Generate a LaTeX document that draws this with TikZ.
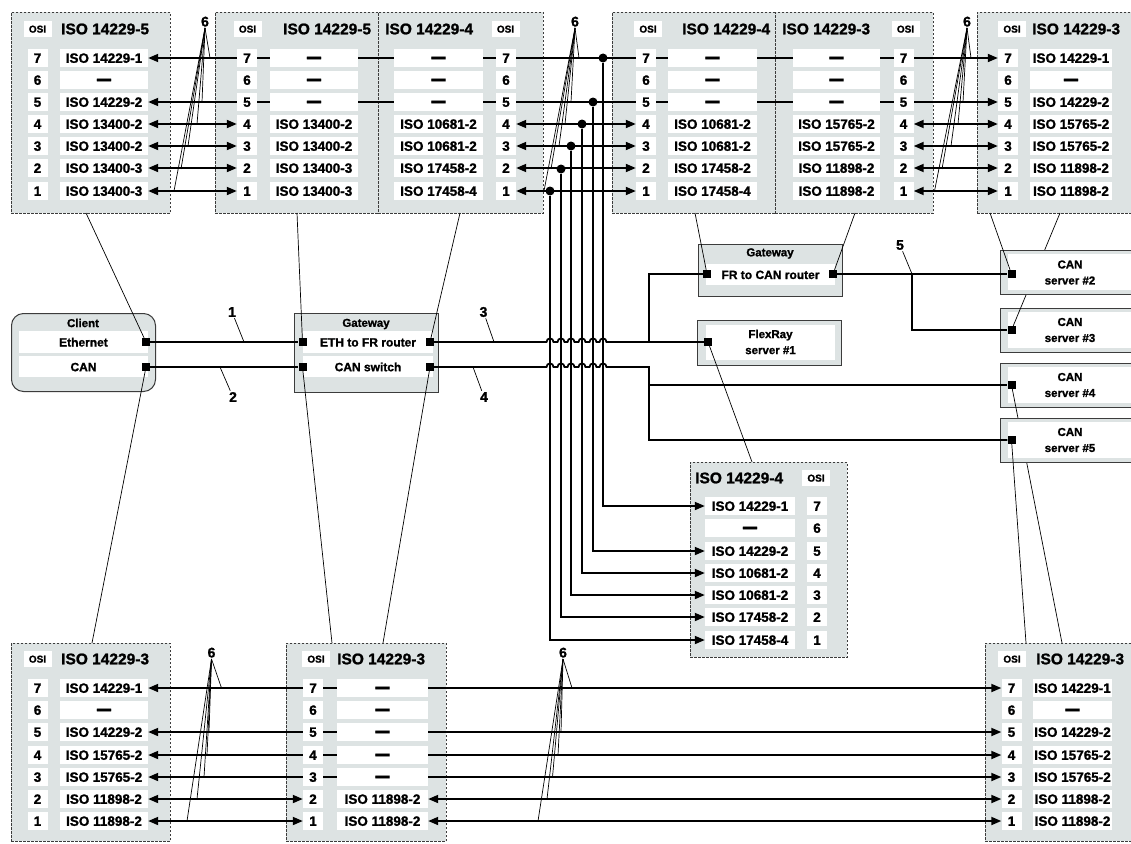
\documentclass[tikz,border=0pt]{standalone}
\usepackage{fontspec}
\setmainfont{Liberation Sans}[BoldFeatures={FakeBold=1.3}]
\usetikzlibrary{arrows.meta}
\pgfdeclarelayer{bg}
\pgfdeclarelayer{mid}
\pgfsetlayers{bg,mid,main}
\definecolor{pg}{RGB}{221,227,227}
\definecolor{bd}{RGB}{60,60,60}
\newcommand\cellfnt{\fontsize{13.5}{15}\selectfont\bfseries}
\newcommand\hdfnt{\fontsize{15.5}{18}\selectfont\bfseries}
\newcommand\osifnt{\fontsize{10}{12}\selectfont\bfseries}
\newcommand\boxfnt{\fontsize{12}{15}\selectfont\bfseries}
\newcommand\ttlfnt{\fontsize{11.5}{13}\selectfont\bfseries}
\newcommand\srvfnt{\fontsize{11.5}{16}\selectfont\bfseries}
\newcommand\lblfnt{\fontsize{14}{16}\selectfont\bfseries}
\newcommand\dsh{\raisebox{-1.7pt}{\scalebox{1.05}[1.8]{—}}}
\tikzset{
 panel/.style={draw=bd, dash pattern=on 2.5pt off 1.5pt, line width=0.7pt, fill=pg, inner sep=0pt, anchor=north west},
 numcell/.style={fill=white, inner sep=0pt, minimum width=20pt, minimum height=18pt, text height=9.6pt, text depth=0pt, font=\cellfnt},
 namecell/.style={numcell, minimum width=#1},
 osilbl/.style={fill=white, inner sep=0pt, minimum width=28pt, minimum height=16pt, text height=7.2pt, text depth=0pt, font=\osifnt},
 hdr/.style={anchor=west, inner sep=0pt, font=\hdfnt},
 conn/.style={line width=1.8pt, draw=black},
 lead/.style={line width=0.7pt, draw=black},
 port/.style={fill=black, inner sep=0pt, minimum size=8pt},
 jdot/.style={circle, fill=black, inner sep=0pt, minimum size=9pt},
 lbl/.style={font=\lblfnt, inner sep=1.2pt},
 gbox/.style={draw=bd, line width=1.1pt, fill=pg, inner sep=0pt, anchor=north west},
 band/.style={fill=white, inner sep=0pt, text height=9pt, text depth=0pt, font=\boxfnt},
 band2/.style={fill=white, inner sep=0pt, align=center, font=\srvfnt},
 ttl/.style={inner sep=0pt, font=\ttlfnt},
 srv/.style={inner sep=0pt, align=center, font=\srvfnt},
}
\newcommand\osicells[7]{%
  \foreach \nm [count=\ii] in {#7} {%
    \pgfmathtruncatemacro\kk{8-\ii}%
    \pgfmathsetmacro\yy{round(#5+#6*(\ii-1))}%
    \node[numcell] (#1n\kk) at (#2,\yy) {\kk};%
    \node[namecell=#4] (#1c\kk) at (#3,\yy) {\nm};%
  }%
}
\newcommand\canserver[3]{%
  \node[gbox, minimum width=170pt, minimum height=44pt] (s#1) at (1000,#2) {};
  \node[fill=white, inner sep=0pt, anchor=north west, minimum width=160pt, minimum height=36pt] (s#1w) at (1008,#2+4) {};
  \node[srv] (s#1t) at (1070,#2+22.5) {CAN\\server \##1};
  \node[port] (s#1P) at (1011.5,#3) {};
}
\begin{document}
\begin{tikzpicture}[x=1pt,y=-1pt,>={Triangle[length=10pt,width=8pt]}]
\useasboundingbox (0,0) rectangle (1131,843);
\begin{pgfonlayer}{bg}
\fill[white] (0,0) rectangle (1131,843);
\node[panel, minimum width=159pt, minimum height=201pt] (PA) at (11,12) {};
\node[panel, minimum width=163pt, minimum height=201pt] (PB) at (215,12) {};
\node[panel, minimum width=165pt, minimum height=201pt] (PC) at (378,12) {};
\node[panel, minimum width=163pt, minimum height=201pt] (PD) at (612,12) {};
\node[panel, minimum width=158pt, minimum height=201pt] (PE) at (775,12) {};
\node[panel, minimum width=200pt, minimum height=201pt] (PF) at (977,12) {};
\node[panel, minimum width=157pt, minimum height=195pt] (PQ) at (690,462) {};
\node[panel, minimum width=159pt, minimum height=198pt] (PL) at (11,643) {};
\node[panel, minimum width=160pt, minimum height=198pt] (PK) at (286,643) {};
\node[panel, minimum width=200pt, minimum height=198pt] (PR) at (985,643) {};
\end{pgfonlayer}

% headers
\node[osilbl] (Ao) at (37.5,29) {OSI}; \node[hdr] (Ah) at (61,29) {ISO 14229-5};
\node[osilbl] (Bo) at (247.5,29) {OSI}; \node[hdr] (Bh) at (283,29) {ISO 14229-5};
\node[hdr] (Ch) at (385,29) {ISO 14229-4}; \node[osilbl] (Co) at (505.5,29) {OSI};
\node[osilbl] (Do) at (648,29) {OSI}; \node[hdr] (Dh) at (682,29) {ISO 14229-4};
\node[hdr] (Eh) at (782,29) {ISO 14229-3}; \node[osilbl] (Eo) at (905.5,29) {OSI};
\node[osilbl] (Fo) at (1012,29) {OSI}; \node[hdr] (Fh) at (1032,29) {ISO 14229-3};
\node[hdr] (Qh) at (695,478) {ISO 14229-4}; \node[osilbl] (Qo) at (816,478) {OSI};
\node[osilbl] (Lo) at (37.5,659) {OSI}; \node[hdr] (Lh) at (61,659) {ISO 14229-3};
\node[osilbl] (Ko) at (316,659) {OSI}; \node[hdr] (Kh) at (337,659) {ISO 14229-3};
\node[osilbl] (Ro) at (1012,659) {OSI}; \node[hdr] (Rh) at (1036,659) {ISO 14229-3};

% cells
\osicells{A}{37.5}{104}{88pt}{57.5}{22.2}{ISO 14229-1,\dsh,ISO 14229-2,ISO 13400-2,ISO 13400-2,ISO 13400-3,ISO 13400-3}
\osicells{B}{247}{314}{88pt}{57.5}{22.2}{\dsh,\dsh,\dsh,ISO 13400-2,ISO 13400-2,ISO 13400-3,ISO 13400-3}
\osicells{C}{506}{438.5}{89pt}{57.5}{22.2}{\dsh,\dsh,\dsh,ISO 10681-2,ISO 10681-2,ISO 17458-2,ISO 17458-4}
\osicells{D}{646}{712.5}{89pt}{57.5}{22.2}{\dsh,\dsh,\dsh,ISO 10681-2,ISO 10681-2,ISO 17458-2,ISO 17458-4}
\osicells{E}{903.5}{836.5}{87pt}{57.5}{22.2}{\dsh,\dsh,\dsh,ISO 15765-2,ISO 15765-2,ISO 11898-2,ISO 11898-2}
\osicells{F}{1008}{1071}{82pt}{57.5}{22.2}{ISO 14229-1,\dsh,ISO 14229-2,ISO 15765-2,ISO 15765-2,ISO 11898-2,ISO 11898-2}
\osicells{Q}{817}{750}{90pt}{506}{22.25}{ISO 14229-1,\dsh,ISO 14229-2,ISO 10681-2,ISO 10681-2,ISO 17458-2,ISO 17458-4}
\osicells{L}{37.5}{104}{88pt}{688}{22.2}{ISO 14229-1,\dsh,ISO 14229-2,ISO 15765-2,ISO 15765-2,ISO 11898-2,ISO 11898-2}
\osicells{K}{313}{382.5}{91pt}{688}{22.2}{\dsh,\dsh,\dsh,\dsh,\dsh,ISO 11898-2,ISO 11898-2}
\osicells{R}{1011.5}{1072.5}{79pt}{688}{22.2}{ISO 14229-1,\dsh,ISO 14229-2,ISO 15765-2,ISO 15765-2,ISO 11898-2,ISO 11898-2}

% row connections (behind cells)
\begin{pgfonlayer}{mid}
\draw[conn,<->] (Ac7.east) -- (Fn7.west);
\draw[conn,<->] (Ac5.east) -- (Fn5.west);
\foreach \kk in {4,3,2,1} {
  \draw[conn,<->] (Ac\kk.east) -- (Bn\kk.west);
  \draw[conn,<->] (Cn\kk.east) -- (Dn\kk.west);
  \draw[conn,<->] (En\kk.east) -- (Fn\kk.west);
}
\foreach \kk in {7,5,4,3} \draw[conn,<->] (Lc\kk.east) -- (Rn\kk.west);
\foreach \kk in {2,1} {
  \draw[conn,<->] (Lc\kk.east) -- (Kn\kk.west);
  \draw[conn,<->] (Kc\kk.east) -- (Rn\kk.west);
}
\end{pgfonlayer}

% junction dots and drops to the middle stack
\foreach \kk/\xx/\yy in {7/603/58,5/593/102,4/582/124,3/571/146,2/561/169,1/550/191} {
  \node[jdot] (dot\kk) at (\xx,\yy) {};
  \draw[conn,->] (dot\kk) |- (Qc\kk.west);
}

% client
\node[gbox, line width=1pt, rounded corners=12pt, minimum width=144pt, minimum height=78pt] (client) at (11,313) {};
\node[ttl] (clientT) at (83,323) {Client};
\node[band, minimum width=129pt, minimum height=22pt] (cEth) at (83.5,342) {Ethernet};
\node[band, minimum width=129pt, minimum height=21pt] (cCan) at (83.5,366.7) {CAN};
\node[port] (cEthP) at (146,342) {};
\node[port] (cCanP) at (146,367) {};

% gateway 1
\node[gbox, minimum width=144pt, minimum height=78.5pt] (gw1) at (293.5,313) {};
\node[ttl] (gw1T) at (366,324) {Gateway};
\node[band, minimum width=130pt, minimum height=22pt] (gw1a) at (368,342) {ETH to FR router};
\node[band, minimum width=130pt, minimum height=21pt] (gw1b) at (368,366.7) {CAN switch};
\node[port] (g1EL) at (302.5,342) {};
\node[port] (g1CL) at (302.5,367) {};
\node[port] (g1ER) at (430,342) {};
\node[port] (g1CR) at (430,367) {};

% gateway 2
\node[gbox, minimum width=144.5pt, minimum height=52.5pt] (gw2) at (697.5,243.5) {};
\node[ttl] (gw2T) at (770,253.5) {Gateway};
\node[band, minimum width=129pt, minimum height=21pt] (gw2a) at (770.5,274.5) {FR to CAN router};
\node[port] (g2L) at (707,274) {};
\node[port] (g2R) at (833,274) {};

% FlexRay server
\node[gbox, minimum width=144.5pt, minimum height=45.5pt] (fr) at (696.5,319.5) {};
\node[band2, minimum width=129pt, minimum height=35pt] (frT) at (770.5,342) {FlexRay\\server \#1};
\node[port] (frP) at (708,342) {};

% panel entry points of the leader lines
\coordinate (pA) at (86,213);
\coordinate (pL) at (92,643);
\coordinate (pB) at (297,213);
\coordinate (pK1) at (332,643);
\coordinate (pC) at (460,213);
\coordinate (pK2) at (383,643);
\coordinate (pD) at (695,213);
\coordinate (pE) at (855,213);
\coordinate (pQ) at (752,462);
\coordinate (pF1) at (990,213);
\coordinate (pF2) at (1060,213);
\coordinate (pR1) at (1062,643);
\coordinate (pR2) at (1026,643);

% CAN servers (drawn in order so leaders pass behind the next box)
\canserver{3}{307.5}{330}
\draw[lead] (s3P) -- (pF2);
\canserver{2}{250}{274}
\draw[lead] (s2P) -- (pF1);
\canserver{4}{362.5}{385}
\draw[lead] (s4P) -- (pR1);
\canserver{5}{417.5}{440}
\draw[lead] (s5P) -- (pR2);

% leaders from ports to stacks
\draw[lead] (cEthP) -- (pA);
\draw[lead] (cCanP) -- (pL);
\draw[lead] (g1EL) -- (pB);
\draw[lead] (g1CL) -- (pK1);
\draw[lead] (g1ER) -- (pC);
\draw[lead] (g1CR) -- (pK2);
\draw[lead] (g2L) -- (pD);
\draw[lead] (g2R) -- (pE);
\draw[lead] (frP) -- (pQ);

% network links
\draw[conn] (cEthP) -- (g1EL);
\draw[conn] (cCanP) -- (g1CL);
\coordinate (j3) at (649,342);
\coordinate (j4) at (649,367);
\coordinate (j5) at (912,274);
\draw[conn] (g1ER.east) \foreach \vx in {550,561,571,582,593,603} { -- (\vx-3.5,342) .. controls (\vx-3.5,337.3) and (\vx+3.5,337.3) .. (\vx+3.5,342) } -- (frP.west);
\draw[conn] (j3) |- (g2L);
\draw[conn] (g1CR.east) \foreach \vx in {550,561,571,582,593,603} { -- (\vx-3.5,367) .. controls (\vx-3.5,362.3) and (\vx+3.5,362.3) .. (\vx+3.5,367) } -- (j4) |- (s5P);
\draw[conn] (j4) |- (s4P);
\draw[conn] (g2R) -- (s2P);
\draw[conn] (j5) |- (s3P);

% link labels
\node[lbl] (n1) at (232,312) {1}; \coordinate (n1e) at (244,342); \draw[lead] (n1) -- (n1e);
\node[lbl] (n2) at (233,397) {2}; \coordinate (n2e) at (220,367); \draw[lead] (n2) -- (n2e);
\node[lbl] (n3) at (483.5,312) {3}; \coordinate (n3e) at (494,342); \draw[lead] (n3) -- (n3e);
\node[lbl] (n4) at (484,397) {4}; \coordinate (n4e) at (473,367); \draw[lead] (n4) -- (n4e);
\node[lbl] (n5) at (900,245) {5}; \draw[lead] (n5) -- (j5);

% "6" fans
\node[lbl, anchor=south] (six1) at (205,28) {6};
\foreach \kk/\xx/\yy in {7/210/58,5/202/102,4/197/124,3/188/146,2/181/169,1/174/191} {
  \coordinate (fa\kk) at (\xx,\yy); \draw[lead] (six1.south) -- (fa\kk);}
\node[lbl, anchor=south] (six2) at (575,28) {6};
\foreach \kk/\xx/\yy in {7/579/58,5/571/102,4/565/124,3/559/146,2/551/169,1/544/191} {
  \coordinate (fb\kk) at (\xx,\yy); \draw[lead] (six2.south) -- (fb\kk);}
\node[lbl, anchor=south] (six3) at (967,28) {6};
\foreach \kk/\xx/\yy in {7/971/58,5/963/102,4/958/124,3/951/146,2/942/169,1/934.5/191} {
  \coordinate (fc\kk) at (\xx,\yy); \draw[lead] (six3.south) -- (fc\kk);}
\node[lbl, anchor=south] (six4) at (211.5,659) {6};
\foreach \kk/\xx/\yy in {7/221.5/688,5/209/732,4/207/755,3/204/777,2/197/799,1/187/821} {
  \coordinate (fd\kk) at (\xx,\yy); \draw[lead] (six4.south) -- (fd\kk);}
\node[lbl, anchor=south] (six5) at (563,659) {6};
\foreach \kk/\xx/\yy in {7/572/688,5/561/732,4/558/755,3/552.5/777,2/547/799,1/538/821} {
  \coordinate (fe\kk) at (\xx,\yy); \draw[lead] (six5.south) -- (fe\kk);}
\end{tikzpicture}
\end{document}
